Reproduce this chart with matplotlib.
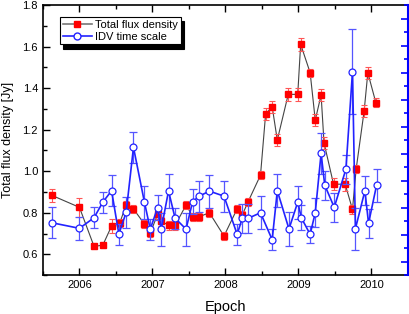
import matplotlib
matplotlib.use("Agg")
import matplotlib.pyplot as plt
from matplotlib.lines import Line2D
from matplotlib.ticker import MultipleLocator, NullFormatter

plt.rcParams['font.family'] = ['Liberation Sans', 'DejaVu Sans']

# Total flux density (red squares)
flux_t = [2005.62, 2006.00, 2006.20, 2006.32, 2006.44, 2006.55, 2006.64, 2006.74,
          2006.89, 2006.97, 2007.07, 2007.12, 2007.23, 2007.31, 2007.46, 2007.56,
          2007.64, 2007.78, 2007.98, 2008.16, 2008.23, 2008.31, 2008.48, 2008.55,
          2008.64, 2008.71, 2008.86, 2008.99, 2009.03, 2009.16, 2009.23, 2009.31,
          2009.35, 2009.48, 2009.64, 2009.74, 2009.79, 2009.90, 2009.95, 2010.06]
flux = [0.884, 0.826, 0.638, 0.644, 0.736, 0.749, 0.838, 0.818,
        0.746, 0.702, 0.792, 0.758, 0.739, 0.739, 0.837, 0.778,
        0.781, 0.800, 0.688, 0.819, 0.789, 0.853, 0.981, 1.275,
        1.310, 1.150, 1.370, 1.370, 1.611, 1.474, 1.246, 1.367,
        1.137, 0.938, 0.937, 0.816, 1.010, 1.291, 1.474, 1.330]
flux_err = [0.03, 0.045, 0.01, 0.01, 0.035, 0.02, 0.02, 0.02,
            0.02, 0.02, 0.02, 0.02, 0.02, 0.02, 0.02, 0.02,
            0.02, 0.02, 0.02, 0.02, 0.02, 0.02, 0.02, 0.03,
            0.03, 0.03, 0.03, 0.03, 0.03, 0.02, 0.03, 0.03,
            0.03, 0.03, 0.03, 0.02, 0.02, 0.03, 0.03, 0.02]

# IDV time scale (blue open circles)
idv_t = [2005.62, 2006.00, 2006.20, 2006.32, 2006.44, 2006.54, 2006.64, 2006.74,
         2006.89, 2006.97, 2007.07, 2007.12, 2007.22, 2007.31, 2007.46, 2007.55,
         2007.64, 2007.78, 2007.98, 2008.16, 2008.23, 2008.31, 2008.48, 2008.64,
         2008.71, 2008.87, 2008.99, 2009.04, 2009.16, 2009.23, 2009.31, 2009.36,
         2009.49, 2009.65, 2009.74, 2009.78, 2009.91, 2009.96, 2010.07]
idv = [0.752, 0.725, 0.776, 0.851, 0.906, 0.697, 0.802, 1.115,
       0.851, 0.721, 0.824, 0.720, 0.905, 0.774, 0.721, 0.853,
       0.880, 0.904, 0.880, 0.696, 0.773, 0.773, 0.800, 0.670,
       0.906, 0.722, 0.851, 0.775, 0.696, 0.800, 1.086, 0.933,
       0.826, 1.010, 1.479, 0.723, 0.906, 0.749, 0.933]
idv_err = [0.075, 0.055, 0.05, 0.05, 0.075, 0.05, 0.075, 0.075,
           0.08, 0.05, 0.06, 0.08, 0.08, 0.05, 0.08, 0.06,
           0.075, 0.08, 0.075, 0.05, 0.07, 0.07, 0.08, 0.05,
           0.08, 0.08, 0.08, 0.06, 0.04, 0.07, 0.1, 0.07,
           0.07, 0.07, 0.205, 0.1, 0.07, 0.07, 0.08]

fig = plt.figure(figsize=(4.09, 3.14), dpi=100)
ax = fig.add_axes([0.105, 0.124, 0.8925, 0.86])

ax.plot(flux_t, flux, color='#444444', lw=0.8, zorder=2)
ax.errorbar(flux_t, flux, yerr=flux_err, fmt='none', ecolor='#ff5555',
            elinewidth=0.8, capsize=2.5, capthick=0.8, zorder=2)
ax.plot(flux_t, flux, 's', color='red', ms=4.2, zorder=3)

ax.errorbar(idv_t, idv, yerr=idv_err, fmt='-', color='#2222ff', lw=1.2,
            ecolor='#5555ff', elinewidth=0.9, capsize=3, capthick=0.9, zorder=4)
ax.plot(idv_t, idv, 'o', mfc='white', mec='#2222ff', mew=0.9, ms=5, zorder=5)

ax.set_xlim(2005.5, 2010.5)
ax.set_ylim(0.5, 1.8)
ax.xaxis.set_major_locator(MultipleLocator(1))
ax.xaxis.set_minor_locator(MultipleLocator(0.5))
ax.yaxis.set_minor_locator(MultipleLocator(0.1))
ax.set_yticks([0.6, 0.8, 1.0, 1.2, 1.4, 1.6, 1.8])
ax.set_yticklabels(['0.6', '0.8', '1.0', '1.2', '1.4', '1.6', '1.8'])
ax.tick_params(which='both', direction='in', top=True, right=False, labelsize=8)
ax.tick_params(which='major', length=5, width=1)
ax.tick_params(which='minor', length=3, width=1)
ax.set_xlabel('Epoch', fontsize=10.5, labelpad=7)
ax.set_ylabel('Total flux density [Jy]', fontsize=9, labelpad=6)
for s in ['left', 'bottom', 'top']:
    ax.spines[s].set_linewidth(1.2)
ax.spines['right'].set_visible(False)

ax2 = ax.twinx()
ax2.set_ylim(-0.5, 9.5)
ax2.yaxis.set_major_locator(MultipleLocator(1))
ax2.yaxis.set_minor_locator(MultipleLocator(0.5))
ax2.yaxis.set_major_formatter(NullFormatter())
ax2.tick_params(which='both', direction='in', colors='blue', width=1.2)
ax2.tick_params(which='major', length=5)
ax2.tick_params(which='minor', length=3)
ax2.spines['right'].set_color('blue')
ax2.spines['right'].set_linewidth(1.5)
for s in ['left', 'bottom', 'top']:
    ax2.spines[s].set_visible(False)

handles = [Line2D([], [], color='#777777', lw=1.2, marker='s', mfc='red', mec='red', ms=4.5),
           Line2D([], [], color='#2222ff', lw=1.2, marker='o', mfc='white', mec='#2222ff', ms=5)]
leg = ax.legend(handles, ['Total flux density', 'IDV time scale'], loc='upper left',
                bbox_to_anchor=(0.047, 0.955), fontsize=8, fancybox=False,
                edgecolor='black', framealpha=1, borderpad=0.25, labelspacing=0.15,
                handlelength=2.6, handletextpad=0.3, borderaxespad=0,
                shadow={'color': 'black', 'alpha': 1, 'ox': 2, 'oy': -3})
leg.get_frame().set_linewidth(0.8)

fig.savefig('out.png', dpi=100)
